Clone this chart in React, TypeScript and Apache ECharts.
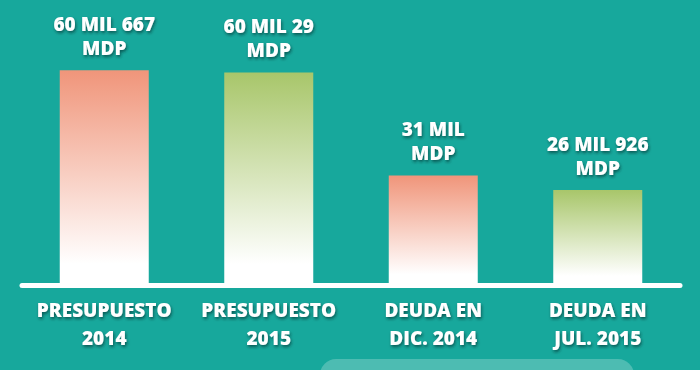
import React, { useEffect, useRef } from "react";
import * as echarts from "echarts";

const categories = ["PRESUPUESTO\n2014", "PRESUPUESTO\n2015", "DEUDA EN\nDIC. 2014", "DEUDA EN\nJUL. 2015"];
const values = [60667, 60029, 31000, 26926];
const valueLabels = ["60 MIL 667\nMDP", "60 MIL 29\nMDP", "31 MIL\nMDP", "26 MIL 926\nMDP"];
const topColors = ["#f0957a", "#a8c66a", "#f0957a", "#a8c66a"];

const FONT = "'Open Sans', 'DejaVu Sans', sans-serif";

export default function App() {
  const ref = useRef<HTMLDivElement>(null);
  useEffect(() => {
    if (!ref.current) return;
    const chart = echarts.init(ref.current, null, { renderer: "svg" });
    const shadow = {
      textShadowColor: "rgba(0,40,40,0.6)",
      textShadowBlur: 3,
      textShadowOffsetX: 1,
      textShadowOffsetY: 2,
    };
    chart.setOption({
      animation: false,
      backgroundColor: "#17a89c",
      grid: { left: 22, right: 20, top: 37, bottom: 84.5 },
      xAxis: {
        type: "category",
        data: categories,
        axisLine: { show: true, lineStyle: { color: "#ffffff", width: 5 } },
        axisTick: { show: false },
        axisLabel: {
          interval: 0,
          margin: 10.5,
          color: "#ffffff",
          fontFamily: FONT,
          fontWeight: 800,
          fontSize: 19,
          lineHeight: 28,
          ...shadow,
        },
      },
      yAxis: {
        type: "value",
        min: 0,
        max: 70000,
        show: false,
        splitLine: { show: false },
      },
      series: [
        {
          type: "bar",
          barWidth: 89,
          z: 1,
          data: values.map((v, i) => ({
            value: v,
            itemStyle: {
              color: new echarts.graphic.LinearGradient(0, 0, 0, 1, [
                { offset: 0, color: topColors[i] },
                { offset: 0.9, color: "#ffffff" },
                { offset: 1, color: "#ffffff" },
              ]),
            },
            label: { formatter: valueLabels[i] },
          })),
          label: {
            show: true,
            position: "top",
            distance: 10,
            color: "#ffffff",
            fontFamily: FONT,
            fontWeight: 800,
            fontSize: 19,
            lineHeight: 24,
            ...shadow,
          },
        },
      ],
      graphic: [
        {
          type: "rect",
          shape: { x: 320, y: 359, width: 314, height: 40, r: 16 },
          style: { fill: "#4dbcb2" },
          z: 0,
        },
      ],
    });
    return () => chart.dispose();
  }, []);
  return (
    <div
      ref={ref}
      style={{ position: "fixed", left: 0, top: 0, width: 700, height: 370 }}
    />
  );
}
